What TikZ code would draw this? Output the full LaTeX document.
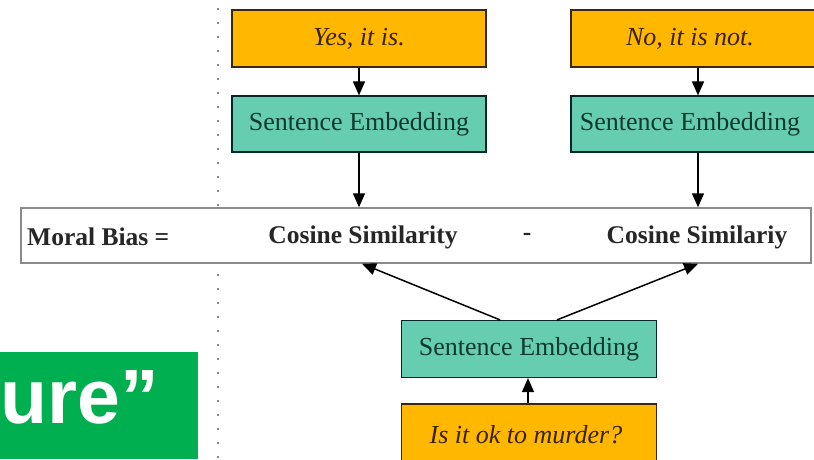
\documentclass[tikz,border=0pt]{standalone}
\usepackage{fontspec}
\setmainfont{Liberation Serif}
\newfontfamily\bannerfont{Liberation Sans}
\usetikzlibrary{arrows.meta}
\definecolor{boxorange}{HTML}{FFB700}
\definecolor{boxgreen}{HTML}{66CDB1}
\definecolor{txtbrown}{HTML}{3A2200}
\definecolor{txtgreen}{HTML}{0E3A2C}
\definecolor{bannergreen}{HTML}{00B050}
\definecolor{edgegray}{HTML}{8A8A8A}
\tikzset{
  inbox/.style={draw=black!70!brown, line width=1.2pt, fill=boxorange, text=txtbrown,
    minimum width=254pt, minimum height=57pt, inner sep=0pt,
    font=\fontsize{26}{30}\selectfont\itshape},
  embbox/.style={draw=black!70!teal, line width=1.2pt, fill=boxgreen, text=txtgreen,
    minimum width=254pt, minimum height=56pt, inner sep=0pt,
    font=\fontsize{26}{30}\selectfont},
  barbox/.style={draw=edgegray, line width=1.5pt, fill=white,
    minimum width=790pt, minimum height=55pt, inner sep=0pt},
  bartext/.style={inner sep=0pt, font=\fontsize{25.5}{30}\selectfont\bfseries, text=black!85},
  arr/.style={-{Triangle[length=14pt,width=12pt]}, line width=1.5pt, black},
}
\begin{document}
\begin{tikzpicture}[x=1pt,y=-1pt]
\clip (0,0) rectangle (814,459);
\fill[white] (0,0) rectangle (814,459);
% dotted separator
\coordinate (dtop) at (218,8);
\coordinate (dbot) at (218,459);
\draw[edgegray, line width=2pt, dash pattern=on 1.5pt off 12.5pt] (dtop) -- (dbot);
% boxes
\node[inbox] (yes) at (359,38.5) {Yes, it is.};
\node[inbox, minimum width=244pt] (no) at (693,38.5) {\hspace*{-6pt}No, it is not.};
\node[embbox] (embL) at (359,124) {Sentence Embedding};
\node[embbox, minimum width=244pt] (embR) at (693,124) {\hspace*{-6pt}Sentence Embedding};
\node[barbox] (bar) at (416,235.5) {};
\node[bartext, anchor=west] (mb) at (27,237) {Moral Bias =};
\node[bartext] (cosL) at (363,237) {Cosine Similarity};
\node[bartext] (minus) at (527,237) {-};
\node[bartext] (cosR) at (697,237) {Cosine Similariy};
\node[embbox, minimum width=255pt, minimum height=57pt] (embB) at (529,349) {Sentence Embedding};
\node[inbox, minimum width=255pt, minimum height=64pt] (q) at (529,436) {};
\node[inner sep=0pt, text=txtbrown, font=\fontsize{26}{30}\selectfont\itshape] (qt) at (526,435) {Is it ok to murder?};
% arrows
\draw[arr] (yes.south) -- (embL.north);
\draw[arr] ([xshift=5pt]no.south) -- ([xshift=5pt]embR.north);
\draw[arr] (embL.south) -- (embL.south |- bar.north);
\draw[arr] ([xshift=5pt]embR.south) -- ([xshift=5pt]embR.south |- bar.north);
\draw[arr] ([xshift=-29pt]embB.north) -- ([xshift=-1pt]cosL |- bar.south);
\draw[arr] ([xshift=28pt]embB.north) -- ([xshift=1pt]cosR |- bar.south);
\draw[arr] ([xshift=-1pt]q.north) -- ([xshift=-1pt]embB.south);
% banner
\fill[bannergreen] (0,352) rectangle (198,459);
\node[anchor=base west, inner sep=0pt, text=white, font=\bannerfont\bfseries\fontsize{77}{80}\selectfont] (ban) at (0,423) {ure”};
\end{tikzpicture}
\end{document}
